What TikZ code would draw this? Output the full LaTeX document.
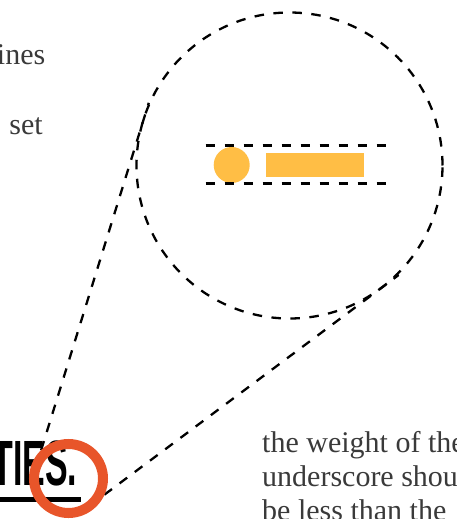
\documentclass[tikz,border=0pt]{standalone}
\usepackage{fontspec}
\setmainfont{Liberation Serif}
\newfontfamily\bodyfont{Liberation Serif}
\newfontfamily\headfont{Liberation Sans}
\usetikzlibrary{calc}
\definecolor{ringorange}{HTML}{E8552A}
\definecolor{dotyellow}{HTML}{FFBE45}
\definecolor{bodygrey}{HTML}{3A3A3A}
\tikzset{
  dashline/.style={draw=black, line width=2.3pt, dash pattern=on 9.5pt off 9.5pt},
  bodytext/.style={inner sep=0pt, text=bodygrey, font=\bodyfont\fontsize{30}{34}\selectfont},
  headtext/.style={inner sep=0pt, text=black, font=\headfont\bfseries\fontsize{64}{64}\selectfont},
}
\begin{document}
\begin{tikzpicture}[x=1pt,y=-1pt]
\useasboundingbox (0,0) rectangle (457,519);
% magnifier circle
\node[circle, dashline, minimum size=306pt, inner sep=0pt] (bigc) at (289.5,165.5) {};
% tangent points
\coordinate (lt) at (35.5,468.3);
\coordinate (ltop) at ($(lt)!1.05!(143.4,120.2)$);
\coordinate (rt) at (89.1,506.1);
\coordinate (rtop) at ($(rt)!1.06!(381.1,288.1)$);
\draw[dashline] (lt) -- (ltop);
\draw[dashline] (rt) -- (rtop);
% zoomed detail
\node[circle, fill=dotyellow, minimum size=36pt, inner sep=0pt] (dot) at (231.7,165) {};
\node[rectangle, fill=dotyellow, minimum width=98pt, minimum height=24pt, inner sep=0pt] (bar) at (315,164.7) {};
\coordinate (ua) at (205.7,145.5);
\coordinate (ub) at (387,145.5);
\coordinate (la) at (205.7,183.5);
\coordinate (lb) at (387,183.5);
\draw[dashline] (ua) -- (ub);
\draw[dashline] (la) -- (lb);
% body text
\node[bodytext, anchor=base east] (t1) at (45.5,65) {ines};
\node[bodytext, anchor=base east] (t2) at (43,134) {set};
\node[bodytext, anchor=base west] (r1) at (262,452.7) {the weight of the};
\node[bodytext, anchor=base west] (r2) at (262,486.7) {underscore should};
\node[bodytext, anchor=base west] (r3) at (262,520.7) {be less than the};
% heading
\node[headtext, anchor=base east] (head) at (77.5,485) {\scalebox{0.53}[1]{TIES.}};
\fill[black] (0,496.5) rectangle (81,501.5);
% ring
\node[circle, draw=ringorange, line width=10pt, minimum size=69pt, inner sep=0pt] (ring) at (68.5,478.5) {};
\end{tikzpicture}
\end{document}
